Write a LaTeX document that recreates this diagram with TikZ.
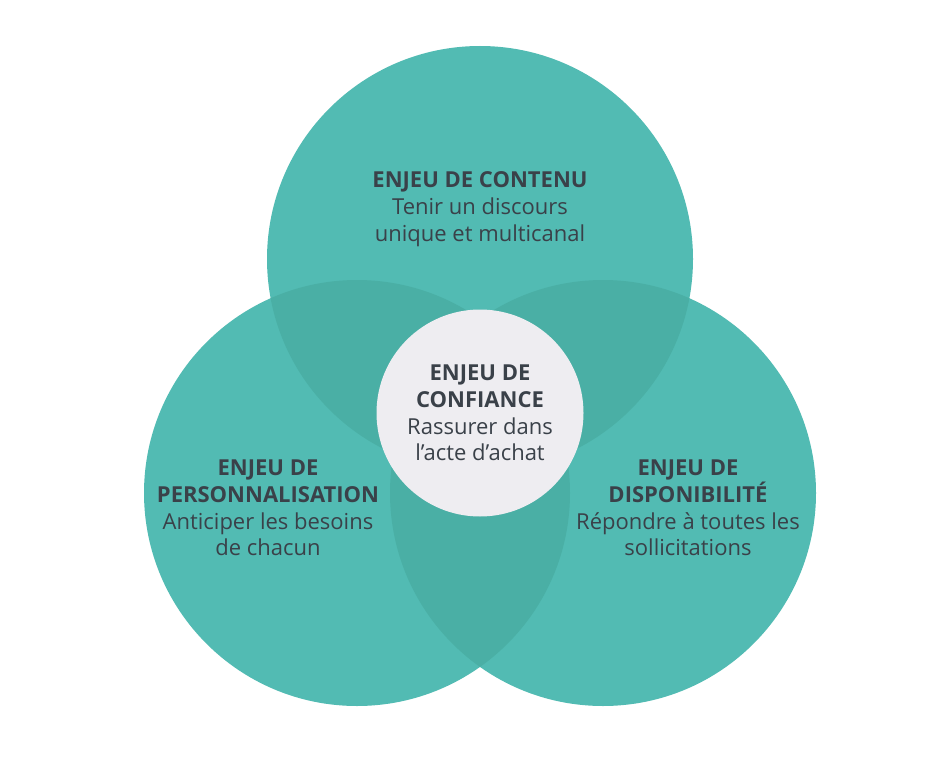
\documentclass[tikz,border=0pt]{standalone}
\usepackage{fontspec}
\setmainfont{Open Sans}
\definecolor{vennteal}{HTML}{52BBB3}
\definecolor{venndark}{HTML}{4AAFA5}
\definecolor{venngray}{HTML}{EEEDF1}
\definecolor{venntext}{HTML}{3A4149}
\tikzset{
  lobe/.style={circle, fill=vennteal, minimum size=426pt, inner sep=0pt},
  core/.style={circle, fill=venngray, minimum size=207pt, inner sep=0pt},
  lobetext/.style={align=center, text=venntext, font=\fontsize{22}{26.8}\selectfont},
  overlap/.style={fill=venndark}
}
\begin{document}
\begin{tikzpicture}[x=1pt,y=-1pt]
  \fill[white] (0,0) rectangle (950,770);
  \useasboundingbox (0,0) rectangle (950,770);
  % the three lobes
  \node[lobe] (contenu) at (480,259) {};
  \node[lobe] (perso) at (357,493) {};
  \node[lobe] (dispo) at (603,493) {};
  % overlaps
  \begin{scope}
    \clip (contenu.center) circle (213pt);
    \fill[overlap] (perso.center) circle (213pt);
    \fill[overlap] (dispo.center) circle (213pt);
  \end{scope}
  \begin{scope}
    \clip (perso.center) circle (213pt);
    \fill[overlap] (dispo.center) circle (213pt);
  \end{scope}
  \node[core] (confiance) at (480,413) {};
  % texts
  \node[lobetext] (tcontenu) at (480,209) {\textbf{ENJEU DE CONTENU}\\Tenir un discours\\unique et multicanal};
  \node[lobetext] (tperso) at (268,508) {\textbf{ENJEU DE}\\\textbf{PERSONNALISATION}\\Anticiper les besoins\\de chacun};
  \node[lobetext] (tdispo) at (688,508) {\textbf{ENJEU DE}\\\textbf{DISPONIBILITÉ}\\Répondre à toutes les\\sollicitations};
  \node[lobetext] (tconfiance) at (480,413) {\textbf{ENJEU DE}\\\textbf{CONFIANCE}\\Rassurer dans\\l’acte d’achat};
\end{tikzpicture}
\end{document}
